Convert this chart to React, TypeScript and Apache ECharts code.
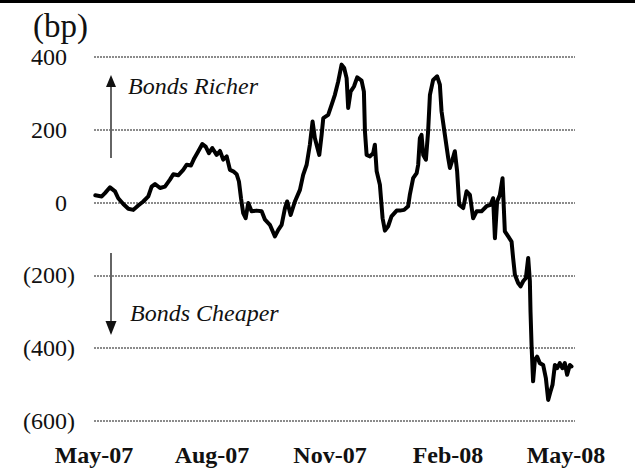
import React, { useEffect, useRef } from "react";
import * as echarts from "echarts";

// x = days since 1 May 2007, y = spread in bp
const days = [
  1, 6, 8.5, 12.4, 16.3, 18.8, 22.7, 26.6, 30.5, 34.3,
  38.2, 42.1, 44.7, 47.3, 51.2, 55, 58.9, 61.5, 65.3, 69.2,
  71.9, 75.2, 77.8, 80.9, 84, 86.6, 89.1, 91.7, 95.1, 97.7,
  100.2, 102.9, 105.4, 108, 110.6, 112.4, 114, 115.7, 117.6, 119.6,
  122.2, 126.1, 130, 132.6, 136.4, 140.3, 142.9, 145.5, 148.1, 149.8,
  152.5, 155.8, 159.7, 162.2, 164.9, 167.4, 169.5, 171.3, 174.7, 176.5,
  177.8, 181.6, 184.3, 186.8, 189.4, 192, 194, 195.9, 197.1, 199,
  201.6, 204.1, 207.5, 209.3, 210.1, 211.4, 214, 216.5, 217.8, 219.2,
  221.7, 223.8, 225.6, 228.1, 230.7, 234.7, 237.2, 240.5, 243.6, 244.9,
  247.5, 250.2, 251.4, 252.7, 254, 255.3, 257.4, 259.1, 260.5, 263,
  266.1, 268.2, 269.5, 272.1, 274.7, 276, 278, 279.8, 281.6, 283.2,
  286.3, 288.9, 291.5, 294, 296.7, 300.5, 304.4, 307.5, 309.5, 310.9,
  312.6, 314.7, 316.8, 318.6, 321.2, 323.8, 325, 326.4, 328.9, 330.8,
  332.8, 334.9, 336.7, 338, 338.5, 339.3, 340.5, 341.9, 343.6, 345.7,
  348.3, 350.4, 352.2, 354, 355.6, 357.4, 359.2, 361.2, 363.3, 365.1,
  366.9, 369, 370.3,
];

const spread = [
  20, 17, 26, 42, 31, 12, -4, -17, -20, -8,
  3, 17, 44, 51, 40, 44, 63, 78, 75, 90,
  104, 102, 122, 141, 161, 154, 136, 150, 131, 142,
  118, 127, 90, 86, 78, 58, 12, -29, -43, -1,
  -24, -22, -24, -47, -61, -93, -75, -61, -15, 3,
  -34, 3, 35, 76, 104, 159, 223, 177, 131, 186,
  232, 241, 269, 296, 333, 379, 370, 342, 260, 305,
  319, 344, 335, 305, 196, 131, 127, 136, 159, 86,
  49, -43, -77, -65, -38, -22, -22, -20, -10, 21,
  67, 81, 104, 177, 186, 131, 118, 196, 296, 337,
  347, 324, 251, 186, 122, 95, 118, 141, 86, -6,
  -15, 31, 21, -43, -24, -24, -10, -6, 12, -98,
  3, 21, 67, -79, -93, -107, -152, -198, -221, -230,
  -216, -207, -152, -216, -299, -391, -491, -432, -423, -441,
  -446, -482, -542, -519, -500, -446, -455, -441, -455, -441,
  -473, -446, -450,
];

const xLabels = ["May-07", "Aug-07", "Nov-07", "Feb-08", "May-08"];
const yMin = -600;
const yMax = 400;
const yStep = 200;
const unitLabel = "(bp)";
const upNote = "Bonds Richer";
const downNote = "Bonds Cheaper";

const SERIF = "'Liberation Serif', 'Times New Roman', serif";

export default function App() {
  const ref = useRef<HTMLDivElement>(null);

  useEffect(() => {
    if (!ref.current) return;
    const chart = echarts.init(ref.current, null, { renderer: "svg" });
    const data = days.map((d, i) => [d, spread[i]]);

    chart.setOption({
      animation: false,
      backgroundColor: "#ffffff",
      title: {
        text: unitLabel,
        left: 28,
        top: 4,
        textStyle: { fontFamily: SERIF, fontSize: 33, fontWeight: "normal", color: "#111" },
      },
      grid: [
        { left: 94, right: 60, top: 57, bottom: 53 },
        { left: 94, right: 69, top: 57, bottom: 53 },
      ],
      xAxis: [
        {
          type: "value",
          gridIndex: 0,
          min: 0,
          max: 373,
          show: false,
          splitLine: { show: false },
        },
        {
          type: "category",
          gridIndex: 1,
          data: xLabels,
          boundaryGap: false,
          axisLine: { show: false },
          axisTick: { show: false },
          splitLine: { show: false },
          axisLabel: {
            margin: 22,
            fontFamily: SERIF,
            fontSize: 24,
            fontWeight: "bold",
            color: "#111",
          },
        },
      ],
      yAxis: [
        {
          type: "value",
          gridIndex: 0,
          min: yMin,
          max: yMax,
          interval: yStep,
          axisLine: { show: false },
          axisTick: { show: false },
          axisLabel: {
            margin: 19,
            fontFamily: SERIF,
            fontSize: 24,
            color: "#111",
            formatter: (v: number) => (v < 0 ? `(${-v})` : `{p|${v}}`),
            rich: {
              p: { fontFamily: SERIF, fontSize: 24, color: "#111", padding: [0, 8, 0, 0] },
            },
          },
          splitLine: {
            show: true,
            lineStyle: { color: "#666", width: 1.5, type: [2, 1] },
          },
        },
        {
          type: "value",
          gridIndex: 1,
          min: yMin,
          max: yMax,
          show: false,
          splitLine: { show: false },
        },
      ],
      series: [
        {
          type: "line",
          xAxisIndex: 0,
          yAxisIndex: 0,
          data,
          showSymbol: false,
          symbol: "none",
          lineStyle: { color: "#000", width: 4, join: "round", cap: "round" },
        },
      ],
      graphic: [
        { type: "rect", shape: { x: 0, y: 0, width: 635, height: 3 }, style: { fill: "#000" } },
        { type: "line", shape: { x1: 111, y1: 84, x2: 111, y2: 158 }, style: { stroke: "#111", lineWidth: 1.3 } },
        { type: "polygon", shape: { points: [[111, 75], [106, 87], [116, 87]] }, style: { fill: "#111" } },
        {
          type: "text",
          x: 128,
          y: 86,
          style: {
            text: upNote,
            fontFamily: SERIF,
            fontStyle: "italic",
            fontSize: 24,
            fill: "#111",
            verticalAlign: "middle",
          },
        },
        { type: "line", shape: { x1: 111, y1: 253, x2: 111, y2: 325 }, style: { stroke: "#111", lineWidth: 1.3 } },
        { type: "polygon", shape: { points: [[111, 335], [105.5, 321], [116.5, 321]] }, style: { fill: "#111" } },
        {
          type: "text",
          x: 130,
          y: 313,
          style: {
            text: downNote,
            fontFamily: SERIF,
            fontStyle: "italic",
            fontSize: 24,
            fill: "#111",
            verticalAlign: "middle",
          },
        },
      ],
    });

    return () => chart.dispose();
  }, []);

  return (
    <div
      ref={ref}
      style={{ position: "absolute", left: 0, top: 0, width: 635, height: 474 }}
    />
  );
}
